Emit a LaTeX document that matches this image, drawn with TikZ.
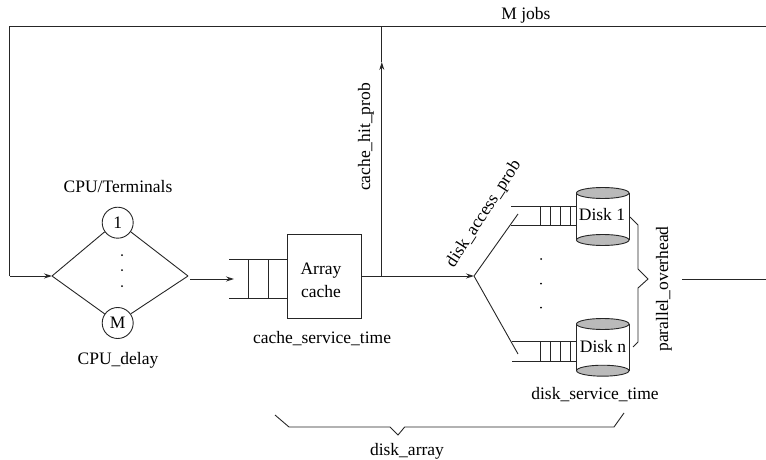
\documentclass[tikz,border=0pt]{standalone}
\usepackage{fontspec}
\setmainfont{Liberation Serif}
\usetikzlibrary{arrows.meta}
\tikzset{
  line/.style={draw=black!85,line width=0.9pt},
  arr/.style={line,-{Stealth[length=8pt,width=5pt]}},
  lbl/.style={inner sep=0pt,font=\fontsize{17.5}{20}\selectfont},
  term/.style={circle,draw=black!85,line width=0.9pt,minimum size=31pt,inner sep=0pt,font=\fontsize{17.5}{20}\selectfont},
  dotn/.style={circle,fill=black,inner sep=0pt,minimum size=2pt},
  cachebox/.style={draw=black!85,line width=0.9pt,minimum width=73.5pt,minimum height=83.5pt,inner sep=0pt},
}
\newcommand{\diskcyl}[2]{%
  \draw[line] (576.5,#1) -- (576.5,#2) (629,#1) -- (629,#2);
  \draw[line,fill=black!27] (602.75,#1) ellipse (26.25 and 5.5);
  \draw[line,fill=black!27] (602.75,#2) ellipse (26.25 and 5.5);
}
\begin{document}
\begin{tikzpicture}[x=1pt,y=-1pt]
\useasboundingbox (0,0) rectangle (766,460);
% feedback loop
\coordinate (topL) at (9.5,26.7);
\coordinate (topR) at (766,26.7);
\coordinate (topJ) at (381.8,26.7);
\coordinate (dL) at (52,276);
\coordinate (dR) at (188,276);
\coordinate (botL) at (9.5,276);
\draw[line] (topR) -- (topL) -- (botL);
\draw[arr] (botL) -- (dL);
\node[lbl] (mjobs) at (526,15) {M jobs};
% CPU
\node[term] (c1) at (117.7,222.7) {1};
\node[term] (cM) at (117.7,323) {M};
\node[lbl] (cpu) at (118,187) {CPU/Terminals};
\node[lbl] (cpud) at (118,360) {CPU\_delay};
\draw[line] (dL) -- (c1.215) (dL) -- (cM.145) (dR) -- (c1.-35) (dR) -- (cM.35);
\node[dotn] (d1) at (122,255) {};
\node[dotn] (d2) at (122,270) {};
\node[dotn] (d3) at (122,286) {};
% cache queue
\coordinate (arrS) at (190,279);
\coordinate (arrE) at (234,279);
\draw[arr] (arrS) -- (arrE);
\node[cachebox] (cache) at (324.2,276.3) {};
\node[lbl] (t1) at (321,271) {Array};
\node[lbl] (t2) at (321,292) {cache};
\draw[line] (229,259) -- (287.5,259) (229,298) -- (287.5,298) (248.5,259) -- (248.5,298) (268,259) -- (268,298);
\node[lbl] (cst) at (322,339) {cache\_service\_time};
% hit branch
\coordinate (J) at (381.8,276);
\coordinate (hitTip) at (381.8,62);
\coordinate (fork) at (474,276);
\draw[arr] (cache.east |- J) -- (fork);
\draw[arr] (J) -- (hitTip);
\draw[line] (hitTip) -- (topJ);
\node[lbl,rotate=90] (chp) at (366,137) {cache\_hit\_prob};
\node[lbl,rotate=57] (dap) at (484,214) {disk\_access\_prob};
% fork
\coordinate (f1) at (518,214);
\coordinate (f2) at (518,354);
\draw[line] (fork) -- (f1) (fork) -- (f2);
% disk queues
\draw[line] (511,206) -- (576,206) (511,225.7) -- (576,225.7);
\foreach \x in {540.7,550,560,570} \draw[line] (\x,206) -- (\x,225.7);
\draw[line] (512,341) -- (576,341) (512,361) -- (576,361);
\foreach \x in {540.7,550,560,570} \draw[line] (\x,341) -- (\x,361);
\diskcyl{193}{240}
\diskcyl{324}{370.7}
\node[lbl] (dk1) at (602,215) {Disk 1};
\node[lbl] (dkn) at (603,347) {Disk n};
\node[dotn] (e1) at (541,259) {};
\node[dotn] (e2) at (541,283.7) {};
\node[dotn] (e3) at (541,307.7) {};
\node[lbl] (dst) at (595,395) {disk\_service\_time};
% parallel overhead brace
\draw[line] (630,217) -- (638,225) -- (638,269) -- (648,279) -- (638,288) -- (638,342) -- (633,347);
\node[lbl,rotate=90] (po) at (664,289) {parallel\_overhead};
\coordinate (outS) at (682,279);
\coordinate (outE) at (766,279);
\draw[line] (outS) -- (outE);
% disk array brace
\draw[line] (275,415) -- (289,427) -- (390,427) -- (398,435) -- (404.7,427) -- (614,427) -- (624,413);
\node[lbl] (da) at (407,451) {disk\_array};
\end{tikzpicture}
\end{document}
